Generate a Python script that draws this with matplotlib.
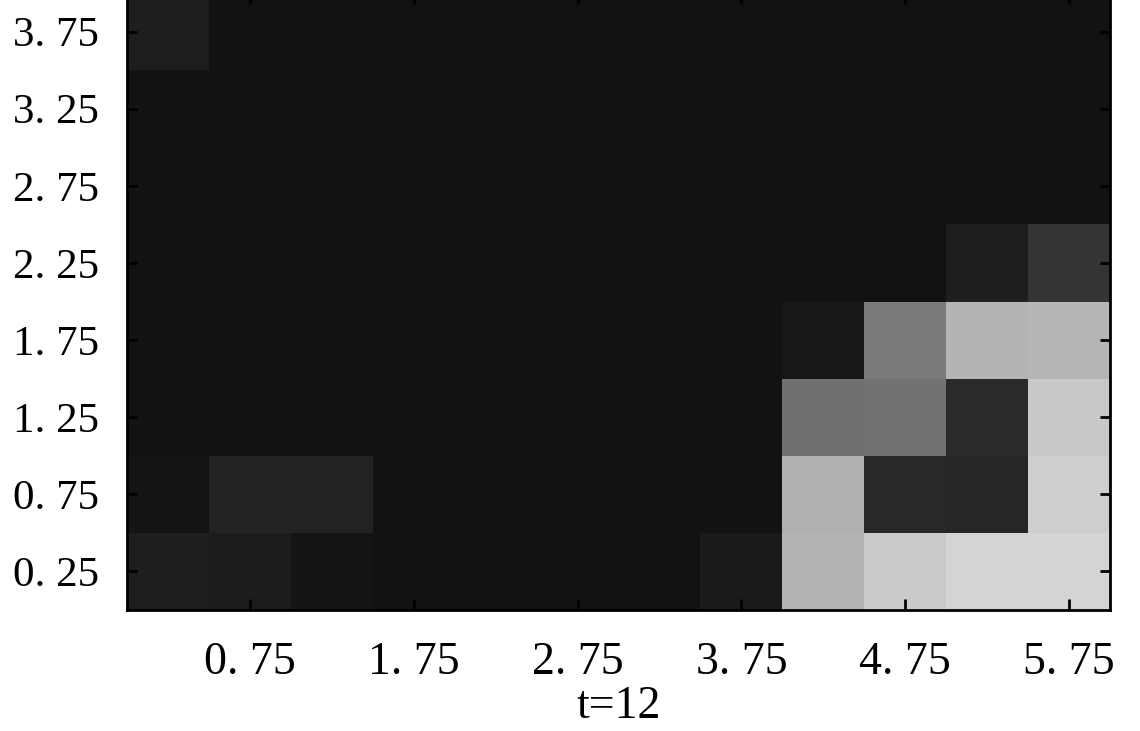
import numpy as np
import matplotlib
matplotlib.use("Agg")
import matplotlib.pyplot as plt

# gray level of each cell (0-255), rows from bottom (y=0) to top, 12 columns
row0 = [30, 28, 20, 18, 18, 18, 18, 27, 180, 202, 212, 212]
row1 = [20, 34, 34, 18, 18, 18, 18, 18, 176, 40, 38, 206]
row2 = [18, 18, 18, 18, 18, 18, 18, 18, 112, 114, 42, 200]
row3 = [18, 18, 18, 18, 18, 18, 18, 18, 24, 122, 180, 182]
row4 = [18, 18, 18, 18, 18, 18, 18, 18, 18, 18, 30, 52]
row5 = [18, 18, 18, 18, 18, 18, 18, 18, 18, 18, 18, 18]
row6 = [18, 18, 18, 18, 18, 18, 18, 18, 18, 18, 18, 18]
row7 = [30, 18, 18, 18, 18, 18, 18, 18, 18, 18, 18, 18]
grid = np.array([row0, row1, row2, row3, row4, row5, row6, row7])

cell = 0.5
xticks = [0.75, 1.75, 2.75, 3.75, 4.75, 5.75]
yticks = [0.25, 0.75, 1.25, 1.75, 2.25, 2.75, 3.25, 3.75]
xlabels = ["0. 75", "1. 75", "2. 75", "3. 75", "4. 75", "5. 75"]
ylabels = ["0. 25", "0. 75", "1. 25", "1. 75", "2. 25", "2. 75", "3. 25", "3. 75"]

plt.rcParams["font.family"] = ["Liberation Serif", "DejaVu Serif"]

fig = plt.figure(figsize=(11.4, 7.31), dpi=100)
ax = fig.add_axes([0.1114, 0.1655, 0.8623, 0.8441])

xe = np.arange(grid.shape[1] + 1) * cell
ye = np.arange(grid.shape[0] + 1) * cell
ax.pcolormesh(xe, ye, grid, cmap="gray", vmin=0, vmax=255, shading="flat")
ax.set_xlim(xe[0], xe[-1])
ax.set_ylim(ye[0], ye[-1])

ax.set_xticks(xticks)
ax.set_xticklabels(xlabels, fontsize=33)
ax.set_yticks(yticks)
ax.set_yticklabels(ylabels, fontsize=31)
ax.tick_params(axis="x", direction="in", top=True, length=8, width=2, pad=23)
ax.tick_params(axis="y", direction="in", right=True, length=7, width=2, pad=20)
for s in ax.spines.values():
    s.set_linewidth(2)
ax.set_xlabel("t=12", fontsize=33, labelpad=1)

fig.savefig("out.png", dpi=100)
